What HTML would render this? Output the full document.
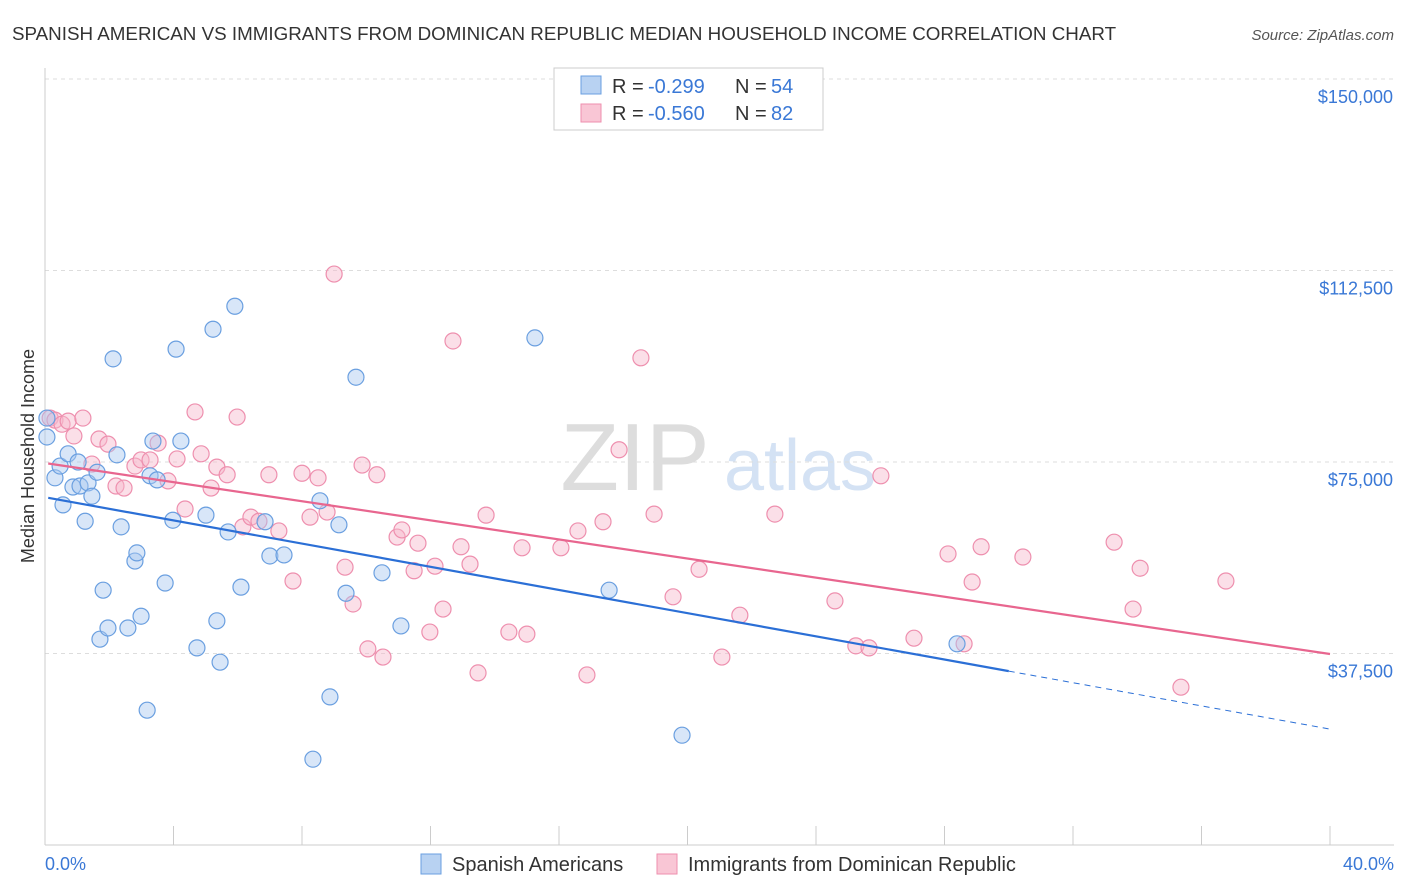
<!DOCTYPE html>
<html><head><meta charset="utf-8">
<style>
body{margin:0;background:#fff;font-family:"Liberation Sans",sans-serif;}
#wrap{position:relative;width:1406px;height:892px;overflow:hidden;}
svg text{font-family:"Liberation Sans",sans-serif;}
</style></head>
<body>
<div id="wrap">
<svg id="chart" width="1406" height="892">
<text x="12" y="40" font-size="18.8" fill="#333">SPANISH AMERICAN VS IMMIGRANTS FROM DOMINICAN REPUBLIC MEDIAN HOUSEHOLD INCOME CORRELATION CHART</text>
<text x="1394" y="40" font-size="15" fill="#555" font-style="italic" text-anchor="end">Source: ZipAtlas.com</text>
<text x="34" y="456" font-size="18" fill="#333" text-anchor="middle" transform="rotate(-90 34 456)">Median Household Income</text>
<g>
<text x="635" y="490" font-size="96" fill="#ddd" font-family="Liberation Serif" text-anchor="middle">ZIP</text>
<text x="800" y="490" font-size="72" fill="#d4e2f4" text-anchor="middle">atlas</text>
</g>
<g id="grid"></g>
<g id="marks"></g>
<g>
<rect x="554" y="68" width="269" height="62" fill="#fff" stroke="#ccc"/>
<rect x="581" y="76" width="20" height="18" fill="#b8d2f2" stroke="#6a9fe0"/>
<g font-size="20">
<text x="612" y="93" fill="#333">R =</text><text x="648" y="93" fill="#3a78d6">-0.299</text>
<text x="735" y="93" fill="#333">N =</text><text x="771" y="93" fill="#3a78d6">54</text>
</g>
<rect x="581" y="104" width="20" height="18" fill="#f9c6d5" stroke="#ee8fae"/>
<g font-size="20">
<text x="612" y="120" fill="#333">R =</text><text x="648" y="120" fill="#3a78d6">-0.560</text>
<text x="735" y="120" fill="#333">N =</text><text x="771" y="120" fill="#3a78d6">82</text>
</g>
</g>
<g>
<rect x="421" y="854" width="20" height="20" fill="#b8d2f2" stroke="#6a9fe0"/>
<text x="452" y="871" font-size="20" fill="#333">Spanish Americans</text>
<rect x="657" y="854" width="20" height="20" fill="#f9c6d5" stroke="#ee8fae"/>
<text x="688" y="871" font-size="20" fill="#333">Immigrants from Dominican Republic</text>
</g>
<text x="45" y="870" font-size="18" fill="#3a78d6">0.0%</text>
<text x="1394" y="870" font-size="18" fill="#3a78d6" text-anchor="end">40.0%</text>
</svg>
</div>
<script>
const yTicks=[150000,112500,75000,37500];
const yTickLabels=["$150,000","$112,500","$75,000","$37,500"];
const xTicks=[0,4,8,12,16,20,24,28,32,36,40];
const blueX=[0.06,0.06,0.31,0.47,0.56,0.72,0.87,1.03,1.09,1.25,1.34,1.46,1.62,1.71,1.81,1.96,2.12,2.24,2.37,2.58,2.80,2.86,2.99,3.18,3.27,3.36,3.49,3.74,3.98,4.08,4.23,4.73,5.01,5.23,5.35,5.45,5.70,5.91,6.10,6.85,7.00,7.44,8.34,8.56,8.87,9.15,9.37,9.68,10.49,11.08,15.25,17.56,19.83,28.39];
const blueY=[83.6,79.9,71.9,74.2,66.6,76.6,70.1,75.0,70.3,63.4,70.9,68.3,73.0,40.3,49.9,42.5,95.2,76.4,62.3,42.5,55.6,57.2,44.8,26.4,72.3,79.1,71.5,51.3,63.6,97.1,79.1,38.6,64.6,101.0,43.9,35.8,61.3,105.5,50.5,63.3,56.6,56.8,16.8,67.4,29.0,62.7,49.3,91.6,53.3,42.9,99.3,49.9,21.5,39.4];
const pinkX=[0.16,0.31,0.53,0.72,0.90,1.18,1.46,1.68,1.96,2.21,2.46,2.80,2.99,3.27,3.52,3.83,4.11,4.36,4.67,4.86,5.17,5.35,5.67,5.98,6.16,6.41,6.66,6.97,7.28,7.72,8.00,8.25,8.50,8.78,9.00,9.34,9.59,9.87,10.05,10.33,10.52,10.96,11.11,11.49,11.61,11.98,12.14,12.39,12.70,12.95,13.23,13.48,13.73,14.44,14.85,15.00,16.06,16.59,16.87,17.37,17.87,18.55,18.96,19.55,20.36,21.07,21.63,22.72,24.59,25.24,25.65,26.02,27.05,28.11,28.61,28.86,29.14,30.44,33.28,33.87,34.09,35.36,36.76];
const pinkY=[83.6,83.2,82.4,83.0,80.1,83.6,74.6,79.5,78.5,70.3,69.9,74.2,75.4,75.4,78.7,71.3,75.6,65.8,84.8,76.6,69.9,74.0,72.5,83.8,62.3,64.2,63.4,72.5,61.5,51.7,72.8,64.2,71.9,65.2,111.8,54.4,47.2,74.4,38.4,72.5,36.8,60.3,61.7,53.7,59.1,41.7,54.6,46.2,98.7,58.4,55.0,33.7,64.6,41.7,58.2,41.3,58.2,61.5,33.3,63.3,77.4,95.4,64.8,48.6,54.0,36.8,45.0,64.8,47.8,39.0,38.6,72.3,40.5,57.0,39.4,51.5,58.4,56.4,59.3,46.2,54.2,30.9,51.7];
const blueTrend=[68.1,-1.135];
const pinkTrend=[74.8,-0.935];
const blueSolidEnd=30.0;

const NS="http://www.w3.org/2000/svg";
const X=p=>45+p/40*1285;
const Y=k=>845-k*1000/37500*191.5;
function mk(tag,attrs,parent){const e=document.createElementNS(NS,tag);for(const k in attrs)e.setAttribute(k,attrs[k]);parent.appendChild(e);return e;}
const grid=document.getElementById('grid'),marks=document.getElementById('marks');
yTicks.forEach((v,i)=>{
  const y=Y(v/1000);
  const l=mk('line',{x1:45,x2:1394,y1:y,y2:y,stroke:'#ddd','stroke-dasharray':'4,4'},grid);
  
  
  const t=mk('text',{x:1393,y:y+24,'font-size':18,fill:'#3a78d6','text-anchor':'end'},grid);
  t.textContent=yTickLabels[i];
  
  
});
const ax=mk('line',{x1:45,x2:1394,y1:845,y2:845,stroke:'#ccc'},grid);


const ay=mk('line',{x1:45,x2:45,y1:68,y2:845,stroke:'#ccc'},grid);


xTicks.forEach(p=>{
  const t=mk('line',{x1:X(p),x2:X(p),y1:826,y2:845,stroke:'#ccc'},grid);
  
  
});
function pts(xs,ys,fill,stroke,name){
  xs.forEach((x,i)=>{
    const c=mk('circle',{cx:X(x),cy:Y(ys[i]),r:8,fill:fill,'fill-opacity':0.45,stroke:stroke,'stroke-width':1.2},marks);
    
    
  });
}
pts(pinkX,pinkY,'#f7b8cb','#ee8fae','point-dominican');
pts(blueX,blueY,'#a9c8ef','#6a9fe0','point-spanish-american');
const tb=mk('line',{x1:X(0.1),y1:Y(blueTrend[0]+blueTrend[1]*0.1),x2:X(blueSolidEnd),y2:Y(blueTrend[0]+blueTrend[1]*blueSolidEnd),stroke:'#2b6fd6','stroke-width':2.2},marks);


const tbd=mk('line',{x1:X(blueSolidEnd),y1:Y(blueTrend[0]+blueTrend[1]*blueSolidEnd),x2:X(40),y2:Y(blueTrend[0]+blueTrend[1]*40),stroke:'#2b6fd6','stroke-width':1,'stroke-dasharray':'6,5'},marks);


const tp=mk('line',{x1:X(0.1),y1:Y(pinkTrend[0]+pinkTrend[1]*0.1),x2:X(40),y2:Y(pinkTrend[0]+pinkTrend[1]*40),stroke:'#e8668f','stroke-width':2.2},marks);


</script>
</body></html>
